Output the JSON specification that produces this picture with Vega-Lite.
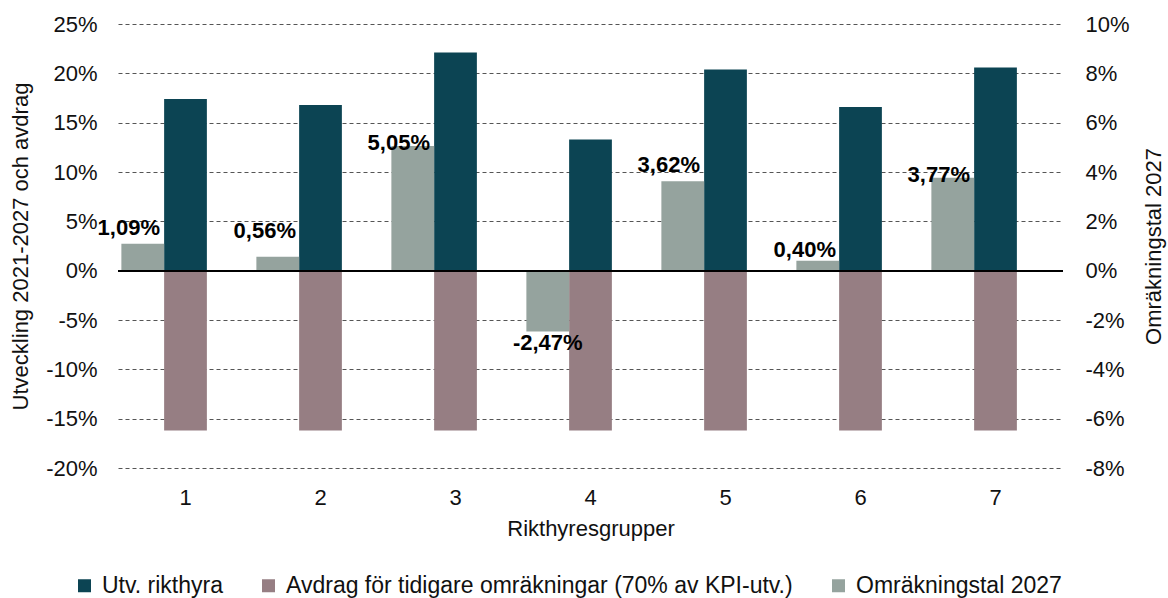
{
  "$schema": "https://vega.github.io/schema/vega-lite/v6.json",
  "width": 945,
  "height": 444,
  "autosize": {"type": "none"},
  "padding": {"left": 118, "top": 24, "right": 105, "bottom": 130},
  "background": "white",
  "config": {
    "locale": {"number": {"decimal": ",", "thousands": " ", "grouping": [3], "currency": ["", " kr"], "minus": "-"}},
    "font": "Liberation Sans",
    "view": {"stroke": null},
    "axis": {
      "labelFont": "Liberation Sans", "titleFont": "Liberation Sans",
      "labelFontSize": 22, "titleFontSize": 22, "titleFontWeight": "normal",
      "labelColor": "#111111", "titleColor": "#111111",
      "domain": false, "ticks": false
    },
    "legend": {
      "labelFont": "Liberation Sans", "labelFontSize": 23, "labelColor": "#111111", "labelLimit": 0,
      "symbolType": "square", "symbolSize": 169, "symbolStrokeWidth": 0,
      "labelOffset": 6, "columnPadding": 34, "padding": 0
    }
  },
  "data": {
    "values": [
      {"group": 1, "series": "Utv. rikthyra", "value": 0.174},
      {"group": 2, "series": "Utv. rikthyra", "value": 0.168},
      {"group": 3, "series": "Utv. rikthyra", "value": 0.221},
      {"group": 4, "series": "Utv. rikthyra", "value": 0.133},
      {"group": 5, "series": "Utv. rikthyra", "value": 0.204},
      {"group": 6, "series": "Utv. rikthyra", "value": 0.166},
      {"group": 7, "series": "Utv. rikthyra", "value": 0.206},
      {"group": 1, "series": "Avdrag för tidigare omräkningar (70% av KPI-utv.)", "value": -0.162},
      {"group": 2, "series": "Avdrag för tidigare omräkningar (70% av KPI-utv.)", "value": -0.162},
      {"group": 3, "series": "Avdrag för tidigare omräkningar (70% av KPI-utv.)", "value": -0.162},
      {"group": 4, "series": "Avdrag för tidigare omräkningar (70% av KPI-utv.)", "value": -0.162},
      {"group": 5, "series": "Avdrag för tidigare omräkningar (70% av KPI-utv.)", "value": -0.162},
      {"group": 6, "series": "Avdrag för tidigare omräkningar (70% av KPI-utv.)", "value": -0.162},
      {"group": 7, "series": "Avdrag för tidigare omräkningar (70% av KPI-utv.)", "value": -0.162},
      {"group": 1, "series": "Omräkningstal 2027", "value": 0.0109},
      {"group": 2, "series": "Omräkningstal 2027", "value": 0.0056},
      {"group": 3, "series": "Omräkningstal 2027", "value": 0.0505},
      {"group": 4, "series": "Omräkningstal 2027", "value": -0.0247},
      {"group": 5, "series": "Omräkningstal 2027", "value": 0.0362},
      {"group": 6, "series": "Omräkningstal 2027", "value": 0.0040},
      {"group": 7, "series": "Omräkningstal 2027", "value": 0.0377}
    ]
  },
  "layer": [
    {
      "transform": [{"filter": "datum.series !== 'Omräkningstal 2027'"}],
      "layer": [
        {
          "mark": {"type": "bar"},
          "encoding": {
            "x": {"field": "group", "type": "ordinal", "scale": {"paddingInner": 0.05, "paddingOuter": 0.025},
                  "axis": {"title": "Rikthyresgrupper", "labelAngle": 0, "labelPadding": 19, "titlePadding": 10, "grid": false}},
            "xOffset": {"datum": "b", "scale": {"domain": ["a", "b", "c"], "paddingInner": 0, "paddingOuter": 0}},
            "y": {"field": "value", "type": "quantitative",
                  "scale": {"domain": [-0.2, 0.25], "nice": false},
                  "axis": {"title": "Utveckling 2021-2027 och avdrag", "format": ".0%",
                           "values": [-0.2, -0.15, -0.1, -0.05, 0, 0.05, 0.1, 0.15, 0.2, 0.25],
                           "labelPadding": 21, "titlePadding": 13,
                           "grid": true, "gridDash": [4, 3], "gridColor": "#555555", "gridWidth": 1}},
            "color": {"field": "series", "type": "nominal",
                      "scale": {"domain": ["Utv. rikthyra", "Avdrag för tidigare omräkningar (70% av KPI-utv.)", "Omräkningstal 2027"],
                                "range": ["#0c4453", "#967e83", "#95a39e"]},
                      "legend": {"title": null, "orient": "none", "direction": "horizontal", "legendX": -45, "legendY": 550}}
          }
        }
      ]
    },
    {
      "transform": [{"filter": "datum.series === 'Omräkningstal 2027'"}],
      "encoding": {
        "x": {"field": "group", "type": "ordinal", "scale": {"paddingInner": 0.05, "paddingOuter": 0.025},
              "axis": {"title": "Rikthyresgrupper", "labelAngle": 0, "labelPadding": 19, "titlePadding": 10, "grid": false}},
        "xOffset": {"datum": "a", "scale": {"domain": ["a", "b", "c"], "paddingInner": 0, "paddingOuter": 0}},
        "y": {"field": "value", "type": "quantitative",
              "scale": {"domain": [-0.08, 0.1], "nice": false},
              "axis": {"orient": "right", "title": "Omräkningstal 2027", "format": ".0%",
                       "values": [-0.08, -0.06, -0.04, -0.02, 0, 0.02, 0.04, 0.06, 0.08, 0.1],
                       "labelPadding": 22, "titlePadding": 14, "titleAngle": 270, "titleBaseline": "top", "grid": false}}
      },
      "layer": [
        {
          "mark": {"type": "bar"},
          "encoding": {
            "color": {"field": "series", "type": "nominal",
                      "scale": {"domain": ["Utv. rikthyra", "Avdrag för tidigare omräkningar (70% av KPI-utv.)", "Omräkningstal 2027"],
                                "range": ["#0c4453", "#967e83", "#95a39e"]},
                      "legend": {"title": null, "orient": "none", "direction": "horizontal", "legendX": -45, "legendY": 550}}
          }
        },
        {
          "mark": {"type": "rule", "color": "#000000", "strokeWidth": 1.5},
          "encoding": {"x": null, "xOffset": null, "y": {"datum": 0}}
        },
        {
          "transform": [{"filter": "datum.group == 1 || datum.group == 5"}],
          "mark": {"type": "text", "fontWeight": "bold", "fontSize": 22, "baseline": "middle", "dx": -14, "dy": -16, "color": "#000000"},
          "encoding": {"text": {"field": "value", "type": "quantitative", "format": ".2%"}}
        },
        {
          "transform": [{"filter": "datum.group == 6"}],
          "mark": {"type": "text", "fontWeight": "bold", "fontSize": 22, "baseline": "middle", "dx": -13, "dy": -11, "color": "#000000"},
          "encoding": {"text": {"field": "value", "type": "quantitative", "format": ".2%"}}
        },
        {
          "transform": [{"filter": "datum.group == 2"}],
          "mark": {"type": "text", "fontWeight": "bold", "fontSize": 22, "baseline": "middle", "dx": -13, "dy": -26, "color": "#000000"},
          "encoding": {"text": {"field": "value", "type": "quantitative", "format": ".2%"}}
        },
        {
          "transform": [{"filter": "datum.group == 3 || datum.group == 7"}],
          "mark": {"type": "text", "fontWeight": "bold", "fontSize": 22, "baseline": "middle", "dx": -14, "dy": -3, "color": "#000000"},
          "encoding": {"text": {"field": "value", "type": "quantitative", "format": ".2%"}}
        },
        {
          "transform": [{"filter": "datum.group == 4"}],
          "mark": {"type": "text", "fontWeight": "bold", "fontSize": 22, "baseline": "middle", "dx": 0, "dy": 11, "color": "#000000"},
          "encoding": {"text": {"field": "value", "type": "quantitative", "format": ".2%"}}
        }
      ]
    }
  ],
  "resolve": {"scale": {"y": "independent"}, "axis": {"y": "independent"}}
}
